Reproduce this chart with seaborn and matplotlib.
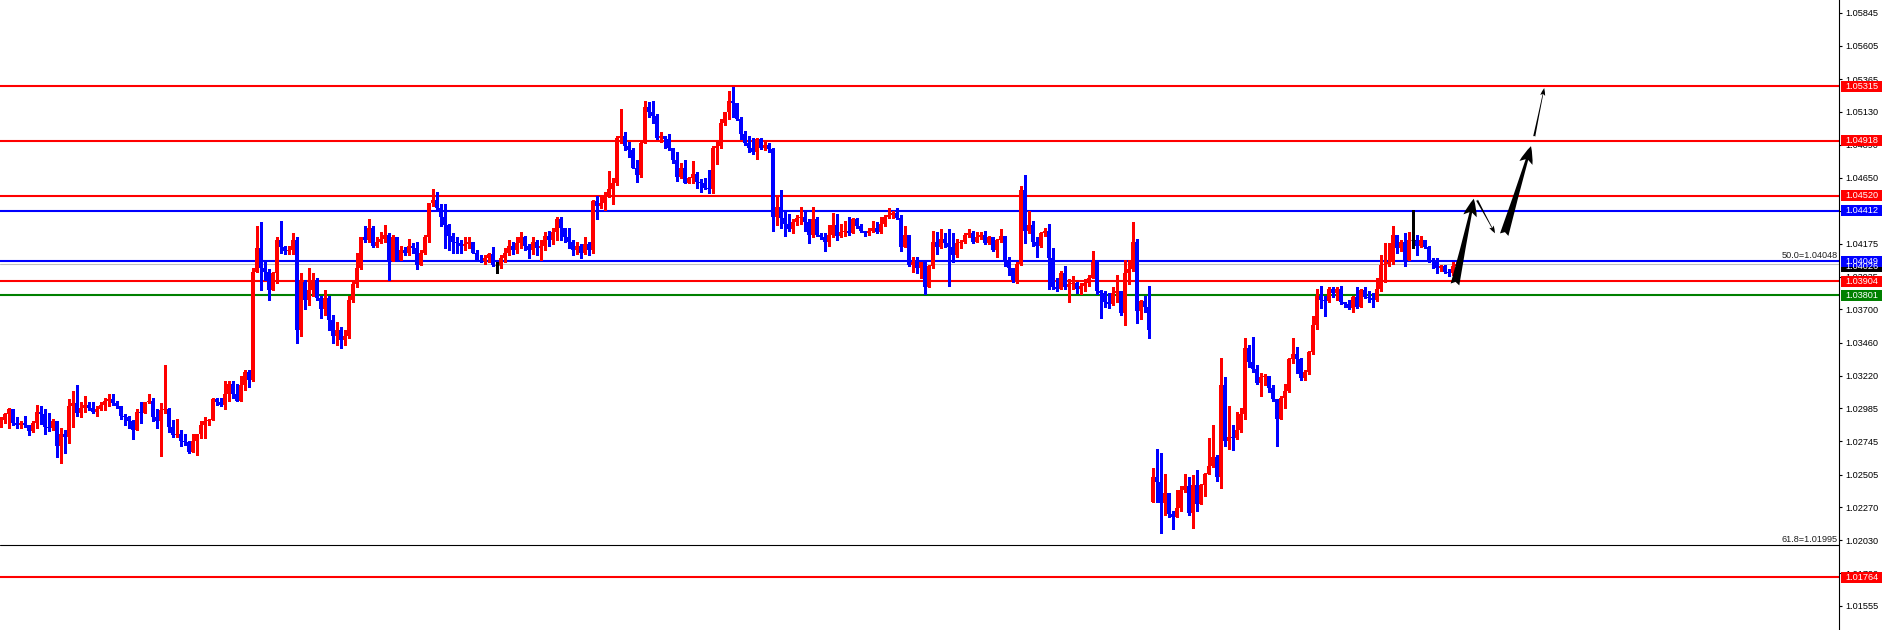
import numpy as np
import pandas as pd
import matplotlib
matplotlib.use("Agg")
import matplotlib.pyplot as plt
import seaborn as sns
from matplotlib.patches import Rectangle
from matplotlib.transforms import blended_transform_factory

# ---- candle data (EURUSD-like) ----
first_open = 1.0285
gap_open = {288: 1.0231}   # weekend gap

close = [
    1.0290, 1.0294, 1.0298, 1.0288, 1.0286, 1.0288, 1.0286, 1.0282, 1.0288, 1.0296,
    1.0294, 1.0285, 1.0284, 1.0289, 1.0271, 1.0280, 1.0278, 1.0300, 1.0302, 1.0295,
    1.0299, 1.0301, 1.0299, 1.0296, 1.0298, 1.0301, 1.0304, 1.0305, 1.0302, 1.0300,
    1.0293, 1.0292, 1.0289, 1.0283, 1.0296, 1.0295, 1.0303, 1.0304, 1.0292, 1.0289,
    1.0297, 1.0298, 1.0285, 1.0279, 1.0280, 1.0275, 1.0274, 1.0267, 1.0275, 1.0280,
    1.0286, 1.0289, 1.0290, 1.0305, 1.0303, 1.0301, 1.0309, 1.0316, 1.0309, 1.0304,
    1.0315, 1.0325, 1.0319, 1.0397, 1.0414, 1.0400, 1.0397, 1.0384, 1.0396, 1.0420,
    1.0415, 1.0412, 1.0413, 1.0420, 1.0355, 1.0390, 1.0377, 1.0384, 1.0391, 1.0378,
    1.0370, 1.0378, 1.0362, 1.0351, 1.0355, 1.0348, 1.0351, 1.0377, 1.0388, 1.0400,
    1.0422, 1.0420, 1.0429, 1.0416, 1.0419, 1.0421, 1.0424, 1.0405, 1.0422, 1.0406,
    1.0413, 1.0411, 1.0416, 1.0414, 1.0402, 1.0411, 1.0422, 1.0447, 1.0449, 1.0443,
    1.0437, 1.0431, 1.0423, 1.0419, 1.0418, 1.0416, 1.0417, 1.0419, 1.0411, 1.0406,
    1.0405, 1.0407, 1.0410, 1.0402, 1.0402, 1.0407, 1.0411, 1.0416, 1.0413, 1.0418,
    1.0422, 1.0416, 1.0413, 1.0419, 1.0414, 1.0416, 1.0423, 1.0420, 1.0426, 1.0435,
    1.0429, 1.0422, 1.0419, 1.0413, 1.0416, 1.0411, 1.0417, 1.0413, 1.0448, 1.0445,
    1.0447, 1.0451, 1.0457, 1.0461, 1.0494, 1.0495, 1.0488, 1.0485, 1.0472, 1.0467,
    1.0490, 1.0516, 1.0513, 1.0510, 1.0494, 1.0495, 1.0493, 1.0487, 1.0478, 1.0466,
    1.0472, 1.0461, 1.0465, 1.0468, 1.0462, 1.0461, 1.0458, 1.0457, 1.0487, 1.0488,
    1.0505, 1.0513, 1.0521, 1.0519, 1.0508, 1.0497, 1.0490, 1.0487, 1.0484, 1.0493,
    1.0487, 1.0489, 1.0486, 1.0437, 1.0444, 1.0436, 1.0432, 1.0428, 1.0433, 1.0436,
    1.0437, 1.0433, 1.0424, 1.0435, 1.0424, 1.0422, 1.0419, 1.0424, 1.0431, 1.0423,
    1.0426, 1.0427, 1.0425, 1.0435, 1.0430, 1.0427, 1.0425, 1.0427, 1.0429, 1.0426,
    1.0432, 1.0437, 1.0438, 1.0440, 1.0436, 1.0415, 1.0424, 1.0402, 1.0404, 1.0400,
    1.0404, 1.0386, 1.0401, 1.0419, 1.0415, 1.0421, 1.0418, 1.0415, 1.0409, 1.0418,
    1.0419, 1.0424, 1.0425, 1.0419, 1.0422, 1.0424, 1.0418, 1.0422, 1.0413, 1.0420,
    1.0423, 1.0406, 1.0400, 1.0391, 1.0403, 1.0456, 1.0427, 1.0431, 1.0419, 1.0416,
    1.0425, 1.0427, 1.0407, 1.0386, 1.0385, 1.0396, 1.0386, 1.0388, 1.0389, 1.0385,
    1.0387, 1.0389, 1.0393, 1.0404, 1.0383, 1.0382, 1.0375, 1.0374, 1.0382, 1.0383,
    1.0367, 1.0396, 1.0399, 1.0419, 1.0369, 1.0376, 1.0372, 1.0355, 1.0249, 1.0245,
    1.0230, 1.0237, 1.0222, 1.0220, 1.0226, 1.0239, 1.0242, 1.0223, 1.0243, 1.0229,
    1.0243, 1.0251, 1.0257, 1.0263, 1.0249, 1.0315, 1.0275, 1.0278, 1.0277, 1.0283,
    1.0294, 1.0342, 1.0332, 1.0327, 1.0317, 1.0321, 1.0322, 1.0313, 1.0305, 1.0291,
    1.0306, 1.0311, 1.0334, 1.0338, 1.0334, 1.0320, 1.0325, 1.0339, 1.0359, 1.0380,
    1.0377, 1.0376, 1.0385, 1.0382, 1.0385, 1.0375, 1.0374, 1.0371, 1.0379, 1.0372,
    1.0384, 1.0379, 1.0378, 1.0377, 1.0385, 1.0402, 1.0403, 1.0404, 1.0424, 1.0414,
    1.0419, 1.0406, 1.0420, 1.0420, 1.0416, 1.0420, 1.0415, 1.0405, 1.0404, 1.0400,
    1.0401, 1.0397, 1.0396, 1.0401, 1.0403,
]

high = [
    1.0292, 1.0295, 1.0299, 1.0298, 1.0292, 1.0289, 1.0293, 1.0286, 1.0289, 1.0301,
    1.0300, 1.0298, 1.0295, 1.0291, 1.0289, 1.0284, 1.0283, 1.0305, 1.0311, 1.0315,
    1.0303, 1.0307, 1.0303, 1.0303, 1.0300, 1.0303, 1.0306, 1.0309, 1.0309, 1.0304,
    1.0300, 1.0294, 1.0293, 1.0290, 1.0298, 1.0303, 1.0303, 1.0309, 1.0306, 1.0298,
    1.0302, 1.0330, 1.0299, 1.0290, 1.0291, 1.0283, 1.0280, 1.0275, 1.0280, 1.0280,
    1.0289, 1.0292, 1.0291, 1.0306, 1.0306, 1.0306, 1.0318, 1.0318, 1.0318, 1.0316,
    1.0322, 1.0326, 1.0326, 1.0400, 1.0430, 1.0433, 1.0404, 1.0399, 1.0397, 1.0422,
    1.0434, 1.0416, 1.0416, 1.0425, 1.0422, 1.0396, 1.0391, 1.0400, 1.0396, 1.0393,
    1.0380, 1.0384, 1.0380, 1.0366, 1.0361, 1.0357, 1.0355, 1.0380, 1.0391, 1.0411,
    1.0422, 1.0430, 1.0435, 1.0430, 1.0422, 1.0426, 1.0431, 1.0425, 1.0424, 1.0422,
    1.0416, 1.0415, 1.0421, 1.0418, 1.0419, 1.0413, 1.0424, 1.0447, 1.0457, 1.0455,
    1.0446, 1.0446, 1.0432, 1.0425, 1.0422, 1.0420, 1.0422, 1.0422, 1.0419, 1.0413,
    1.0409, 1.0409, 1.0411, 1.0415, 1.0404, 1.0409, 1.0414, 1.0420, 1.0419, 1.0422,
    1.0426, 1.0423, 1.0417, 1.0422, 1.0420, 1.0420, 1.0426, 1.0427, 1.0429, 1.0437,
    1.0437, 1.0426, 1.0429, 1.0420, 1.0419, 1.0417, 1.0422, 1.0419, 1.0449, 1.0452,
    1.0452, 1.0455, 1.0470, 1.0465, 1.0495, 1.0515, 1.0498, 1.0491, 1.0487, 1.0478,
    1.0491, 1.0521, 1.0520, 1.0521, 1.0511, 1.0498, 1.0495, 1.0497, 1.0485, 1.0484,
    1.0476, 1.0478, 1.0466, 1.0477, 1.0469, 1.0464, 1.0465, 1.0471, 1.0488, 1.0491,
    1.0508, 1.0513, 1.0528, 1.0531, 1.0519, 1.0509, 1.0499, 1.0495, 1.0494, 1.0494,
    1.0494, 1.0491, 1.0490, 1.0487, 1.0451, 1.0456, 1.0442, 1.0439, 1.0435, 1.0438,
    1.0444, 1.0442, 1.0435, 1.0444, 1.0437, 1.0425, 1.0425, 1.0431, 1.0440, 1.0439,
    1.0432, 1.0434, 1.0437, 1.0436, 1.0436, 1.0432, 1.0427, 1.0429, 1.0434, 1.0433,
    1.0437, 1.0438, 1.0443, 1.0441, 1.0443, 1.0438, 1.0430, 1.0424, 1.0408, 1.0408,
    1.0404, 1.0404, 1.0402, 1.0427, 1.0426, 1.0428, 1.0425, 1.0428, 1.0425, 1.0421,
    1.0420, 1.0425, 1.0428, 1.0427, 1.0426, 1.0426, 1.0427, 1.0423, 1.0422, 1.0421,
    1.0428, 1.0422, 1.0408, 1.0400, 1.0404, 1.0459, 1.0467, 1.0441, 1.0434, 1.0422,
    1.0426, 1.0429, 1.0432, 1.0414, 1.0393, 1.0398, 1.0401, 1.0392, 1.0394, 1.0390,
    1.0389, 1.0392, 1.0395, 1.0412, 1.0406, 1.0384, 1.0383, 1.0382, 1.0386, 1.0395,
    1.0383, 1.0406, 1.0406, 1.0433, 1.0421, 1.0377, 1.0380, 1.0387, 1.0255, 1.0269,
    1.0266, 1.0251, 1.0237, 1.0224, 1.0239, 1.0242, 1.0251, 1.0249, 1.0250, 1.0254,
    1.0244, 1.0252, 1.0277, 1.0286, 1.0265, 1.0335, 1.0321, 1.0300, 1.0286, 1.0296,
    1.0299, 1.0349, 1.0344, 1.0350, 1.0330, 1.0324, 1.0323, 1.0322, 1.0315, 1.0305,
    1.0307, 1.0316, 1.0335, 1.0349, 1.0343, 1.0335, 1.0326, 1.0340, 1.0365, 1.0385,
    1.0387, 1.0380, 1.0386, 1.0386, 1.0386, 1.0387, 1.0375, 1.0377, 1.0380, 1.0386,
    1.0385, 1.0386, 1.0383, 1.0382, 1.0393, 1.0409, 1.0418, 1.0418, 1.0430, 1.0424,
    1.0420, 1.0425, 1.0426, 1.0442, 1.0424, 1.0423, 1.0420, 1.0416, 1.0407, 1.0407,
    1.0402, 1.0402, 1.0399, 1.0404, 1.0404,
]

low = [
    1.0285, 1.0288, 1.0284, 1.0286, 1.0284, 1.0284, 1.0285, 1.0279, 1.0281, 1.0284,
    1.0287, 1.0280, 1.0282, 1.0283, 1.0263, 1.0259, 1.0266, 1.0273, 1.0285, 1.0293,
    1.0292, 1.0296, 1.0297, 1.0295, 1.0293, 1.0297, 1.0297, 1.0300, 1.0301, 1.0299,
    1.0291, 1.0286, 1.0284, 1.0276, 1.0283, 1.0288, 1.0295, 1.0302, 1.0289, 1.0284,
    1.0264, 1.0295, 1.0281, 1.0278, 1.0278, 1.0271, 1.0272, 1.0266, 1.0271, 1.0265,
    1.0277, 1.0277, 1.0286, 1.0290, 1.0301, 1.0300, 1.0298, 1.0304, 1.0306, 1.0304,
    1.0304, 1.0312, 1.0314, 1.0318, 1.0397, 1.0384, 1.0391, 1.0377, 1.0389, 1.0389,
    1.0411, 1.0410, 1.0410, 1.0410, 1.0346, 1.0351, 1.0370, 1.0373, 1.0380, 1.0377,
    1.0364, 1.0366, 1.0355, 1.0346, 1.0344, 1.0342, 1.0344, 1.0349, 1.0375, 1.0386,
    1.0399, 1.0419, 1.0419, 1.0415, 1.0415, 1.0418, 1.0419, 1.0391, 1.0405, 1.0405,
    1.0406, 1.0409, 1.0409, 1.0411, 1.0399, 1.0402, 1.0410, 1.0419, 1.0445, 1.0442,
    1.0430, 1.0414, 1.0413, 1.0411, 1.0411, 1.0411, 1.0413, 1.0414, 1.0411, 1.0405,
    1.0404, 1.0403, 1.0404, 1.0401, 1.0396, 1.0400, 1.0404, 1.0409, 1.0410, 1.0411,
    1.0414, 1.0413, 1.0407, 1.0410, 1.0409, 1.0406, 1.0413, 1.0416, 1.0417, 1.0420,
    1.0420, 1.0419, 1.0414, 1.0409, 1.0410, 1.0407, 1.0410, 1.0409, 1.0411, 1.0435,
    1.0443, 1.0442, 1.0451, 1.0446, 1.0460, 1.0490, 1.0485, 1.0480, 1.0472, 1.0462,
    1.0466, 1.0490, 1.0509, 1.0505, 1.0493, 1.0491, 1.0487, 1.0485, 1.0476, 1.0463,
    1.0465, 1.0461, 1.0461, 1.0461, 1.0458, 1.0455, 1.0457, 1.0454, 1.0454, 1.0475,
    1.0487, 1.0503, 1.0508, 1.0509, 1.0507, 1.0493, 1.0489, 1.0484, 1.0482, 1.0479,
    1.0486, 1.0485, 1.0484, 1.0427, 1.0431, 1.0429, 1.0423, 1.0427, 1.0425, 1.0431,
    1.0432, 1.0427, 1.0418, 1.0422, 1.0423, 1.0421, 1.0412, 1.0416, 1.0422, 1.0420,
    1.0422, 1.0423, 1.0424, 1.0425, 1.0429, 1.0426, 1.0423, 1.0424, 1.0426, 1.0425,
    1.0425, 1.0430, 1.0436, 1.0436, 1.0435, 1.0412, 1.0415, 1.0401, 1.0397, 1.0396,
    1.0393, 1.0381, 1.0386, 1.0400, 1.0410, 1.0414, 1.0415, 1.0387, 1.0404, 1.0408,
    1.0414, 1.0418, 1.0422, 1.0418, 1.0419, 1.0421, 1.0417, 1.0417, 1.0412, 1.0408,
    1.0419, 1.0401, 1.0395, 1.0390, 1.0389, 1.0402, 1.0418, 1.0425, 1.0416, 1.0408,
    1.0415, 1.0423, 1.0385, 1.0385, 1.0383, 1.0385, 1.0385, 1.0375, 1.0385, 1.0382,
    1.0381, 1.0383, 1.0387, 1.0393, 1.0381, 1.0364, 1.0372, 1.0371, 1.0373, 1.0375,
    1.0366, 1.0359, 1.0388, 1.0398, 1.0360, 1.0363, 1.0368, 1.0349, 1.0231, 1.0231,
    1.0208, 1.0221, 1.0220, 1.0211, 1.0220, 1.0224, 1.0238, 1.0221, 1.0212, 1.0224,
    1.0229, 1.0235, 1.0251, 1.0256, 1.0246, 1.0241, 1.0271, 1.0269, 1.0268, 1.0276,
    1.0281, 1.0291, 1.0328, 1.0325, 1.0316, 1.0307, 1.0315, 1.0310, 1.0304, 1.0271,
    1.0291, 1.0299, 1.0310, 1.0331, 1.0324, 1.0319, 1.0319, 1.0323, 1.0338, 1.0356,
    1.0371, 1.0365, 1.0375, 1.0379, 1.0377, 1.0374, 1.0372, 1.0370, 1.0368, 1.0371,
    1.0372, 1.0378, 1.0375, 1.0372, 1.0376, 1.0383, 1.0390, 1.0401, 1.0403, 1.0411,
    1.0412, 1.0401, 1.0406, 1.0414, 1.0409, 1.0415, 1.0414, 1.0404, 1.0400, 1.0396,
    1.0398, 1.0396, 1.0394, 1.0395, 1.0401,
]

# horizontal levels and their colours
level_prices = [1.05315, 1.04918, 1.04520, 1.04412, 1.04049, 1.03904, 1.03801, 1.01764]
level_colors = ["#ff0000", "#ff0000", "#ff0000", "#0000ff", "#0000ff", "#ff0000", "#008000", "#ff0000"]
fib_levels = {"50.0": 1.04048, "61.8": 1.01995}
bid_price = 1.04026

# price scale ticks as shown by the terminal
tick_values = [1.05845, 1.05605, 1.05365, 1.05130, 1.04890, 1.04650, 1.04410, 1.04175,
               1.03935, 1.03700, 1.03460, 1.03220, 1.02985, 1.02745, 1.02505, 1.02270,
               1.02030, 1.01790, 1.01555]

# projected path drawn as arrows: (bar, price) start -> end, thick or thin
arrow_paths = [
    ((363.5, 1.0388), (368.2, 1.0450), "thick"),
    ((369.0, 1.0449), (373.5, 1.0425), "thin"),
    ((375.8, 1.0424), (382.5, 1.0488), "thick"),
    ((383.3, 1.0495), (385.8, 1.0530), "thin"),
]

n = min(len(close), len(high), len(low))
df = pd.DataFrame({"bar": np.arange(n), "close": close[:n], "high": high[:n], "low": low[:n]})
df["open"] = [first_open] + list(df["close"].iloc[:-1])
for k, v in gap_open.items():
    if k < n:
        df.loc[k, "open"] = v
df["high"] = df[["high", "open", "close"]].max(axis=1)
df["low"] = df[["low", "open", "close"]].min(axis=1)

BULL, BEAR, DOJI = "#ff0000", "#0000ff", "#000000"
df["color"] = np.where(df.close > df.open, BULL, np.where(df.close < df.open, BEAR, DOJI))

sns.set_style("white")
plt.rcParams["font.family"] = ["Liberation Sans", "DejaVu Sans"]

W, H = 1883, 630
fig = plt.figure(figsize=(W / 100, H / 100), dpi=100)
fig.patch.set_facecolor("white")
ax = fig.add_axes([0, 0, 1839 / W, 1])
ymin, ymax = 1.01381, 1.05937
ax.set_ylim(ymin, ymax)
ax.set_xlim(-0.25, 459.5)
px = (ymax - ymin) / H  # price per pixel

# levels
for p, c in zip(level_prices, level_colors):
    ax.axhline(p, color=c, lw=1.5, zorder=2)
ax.axhline(fib_levels["61.8"], color="black", lw=0.8, zorder=2)
ax.axhline(bid_price, color="#c0c0c0", lw=0.8, zorder=1)

# candles
ax.vlines(df.bar, df.low, df.high, colors=df.color, lw=0.8, zorder=3, antialiased=False)
body = df[df.color != DOJI]
ax.bar(body.bar, np.maximum((body.close - body.open).abs(), px), bottom=np.minimum(body.open, body.close),
       width=0.75, color=body.color, linewidth=0, zorder=4, antialiased=False)
doji = df[df.color == DOJI]
ax.hlines(doji.close, doji.bar - 0.4, doji.bar + 0.4, colors=DOJI, lw=0.8, zorder=4)

# arrows
for (x0, y0), (x1, y1), kind in arrow_paths:
    if kind == "thick":
        style = "fancy,head_length=0.9,head_width=0.7,tail_width=0.45"
        ms = 14
    else:
        style = "fancy,head_length=0.9,head_width=0.6,tail_width=0.25"
        ms = 6
    ax.annotate("", xy=(x1, y1), xytext=(x0, y0),
                arrowprops=dict(arrowstyle=style, mutation_scale=ms, color="black",
                                shrinkA=0, shrinkB=0, lw=0), zorder=6)

# fibo texts
fs = 6.6
tr_ax = blended_transform_factory(ax.transAxes, ax.transData)
for name, val in fib_levels.items():
    ax.text(1838 / 1839, val + 1.5 * px, "%s=%.5f" % (name, val), transform=tr_ax,
            ha="right", va="bottom", fontsize=fs, color="#202020", zorder=7)

# price scale on the right
for s in ["left", "top", "bottom"]:
    ax.spines[s].set_visible(False)
ax.spines["right"].set_linewidth(0.8)
ax.spines["right"].set_color("black")
ax.set_xticks([])
ax.yaxis.tick_right()
ax.set_yticks(tick_values)
ax.set_yticklabels(["%.5f" % t for t in tick_values])
ax.tick_params(axis="y", right=True, left=False, length=2.5, width=0.8, pad=2, labelsize=fs, colors="black")

# coloured price boxes on the scale
tr = blended_transform_factory(fig.transFigure, ax.transData)
box_h = 11 * px
boxes = [(bid_price - 2 * px, "#000000", bid_price)] + list(zip(level_prices, level_colors, level_prices))
for p, c, val in boxes:
    ax.add_patch(Rectangle((1841 / W, p - box_h / 2), 41 / W, box_h, transform=tr, facecolor=c,
                           edgecolor="none", clip_on=False, zorder=10))
    ax.text(1845 / W, p, "%.5f" % val, transform=tr, ha="left", va="center", fontsize=fs,
            color="white", clip_on=False, zorder=11)

fig.savefig("out.png", dpi=100, facecolor="white")
